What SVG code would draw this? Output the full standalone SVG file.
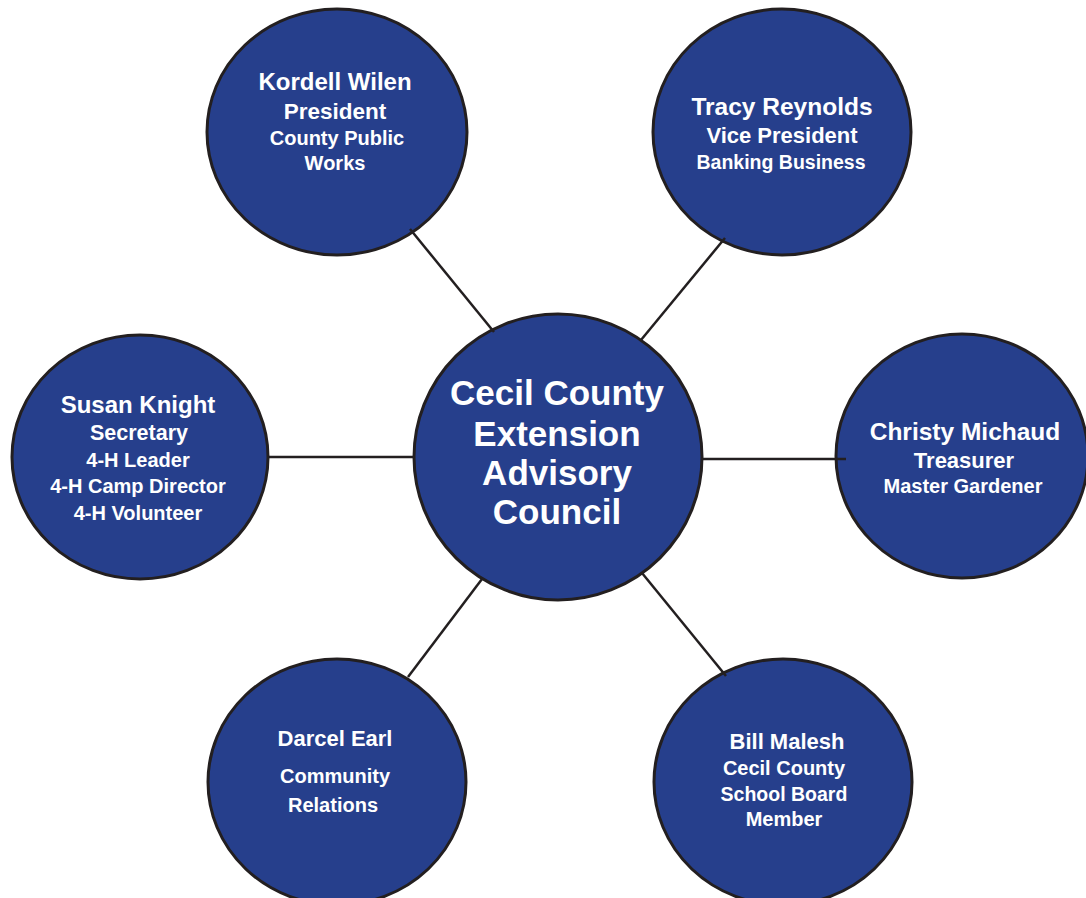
<svg xmlns="http://www.w3.org/2000/svg" width="1086" height="898" viewBox="0 0 1086 898">
<style>
.node{fill:#263F8C;stroke:#231F20;stroke-width:3}
.edge{stroke:#231F20;stroke-width:2.5;fill:none}
text{font-family:"Liberation Sans",Arial,sans-serif;font-weight:bold;fill:#FFFFFF;text-anchor:middle}
</style>
<rect width="1086" height="898" fill="#FFFFFF"/>
<g id="center">
<ellipse class="node" cx="558" cy="457" rx="144" ry="143"/>
<text x="557" y="405" font-size="35">Cecil County</text>
<text x="557" y="446" font-size="35">Extension</text>
<text x="557" y="485" font-size="35">Advisory</text>
<text x="557" y="524" font-size="35">Council</text>
</g>
<g id="kordell">
<ellipse class="node" cx="337" cy="132" rx="130" ry="123"/>
<text x="335" y="90" font-size="24">Kordell Wilen</text>
<text x="335" y="119" font-size="22.5">President</text>
<text x="337" y="145" font-size="20">County Public</text>
<text x="335" y="170" font-size="20">Works</text>
</g>
<g id="tracy">
<ellipse class="node" cx="782" cy="132" rx="129" ry="123"/>
<text x="782" y="115" font-size="24.5">Tracy Reynolds</text>
<text x="782" y="143" font-size="22">Vice President</text>
<text x="781" y="169" font-size="19.5">Banking Business</text>
</g>
<g id="susan">
<ellipse class="node" cx="140" cy="457" rx="128" ry="122"/>
<text x="138" y="413" font-size="24">Susan Knight</text>
<text x="139" y="440" font-size="21.5">Secretary</text>
<text x="138" y="467" font-size="20">4-H Leader</text>
<text x="138" y="493" font-size="20">4-H Camp Director</text>
<text x="138" y="520" font-size="20">4-H Volunteer</text>
</g>
<g id="christy">
<ellipse class="node" cx="962" cy="456" rx="126" ry="122"/>
<text x="965" y="440" font-size="24.5">Christy Michaud</text>
<text x="964" y="468" font-size="22">Treasurer</text>
<text x="963" y="493" font-size="20">Master Gardener</text>
</g>
<g id="darcel">
<ellipse class="node" cx="337" cy="782" rx="129" ry="123"/>
<text x="335" y="746" font-size="22">Darcel Earl</text>
<text x="335" y="783" font-size="20">Community</text>
<text x="333" y="812" font-size="20">Relations</text>
</g>
<g id="bill">
<ellipse class="node" cx="783" cy="782" rx="129" ry="123"/>
<text x="787" y="749" font-size="22">Bill Malesh</text>
<text x="784" y="775" font-size="20">Cecil County</text>
<text x="784" y="801" font-size="19.5">School Board</text>
<text x="784" y="826" font-size="20">Member</text>
</g>
<g id="connectors">
<line class="edge" x1="410" y1="229" x2="494" y2="332"/>
<line class="edge" x1="725" y1="238" x2="641" y2="340"/>
<line class="edge" x1="268" y1="457" x2="414" y2="457"/>
<line class="edge" x1="701" y1="459" x2="846" y2="459"/>
<line class="edge" x1="482" y1="579" x2="408" y2="677"/>
<line class="edge" x1="642" y1="573" x2="726" y2="676"/>
</g>
</svg>
